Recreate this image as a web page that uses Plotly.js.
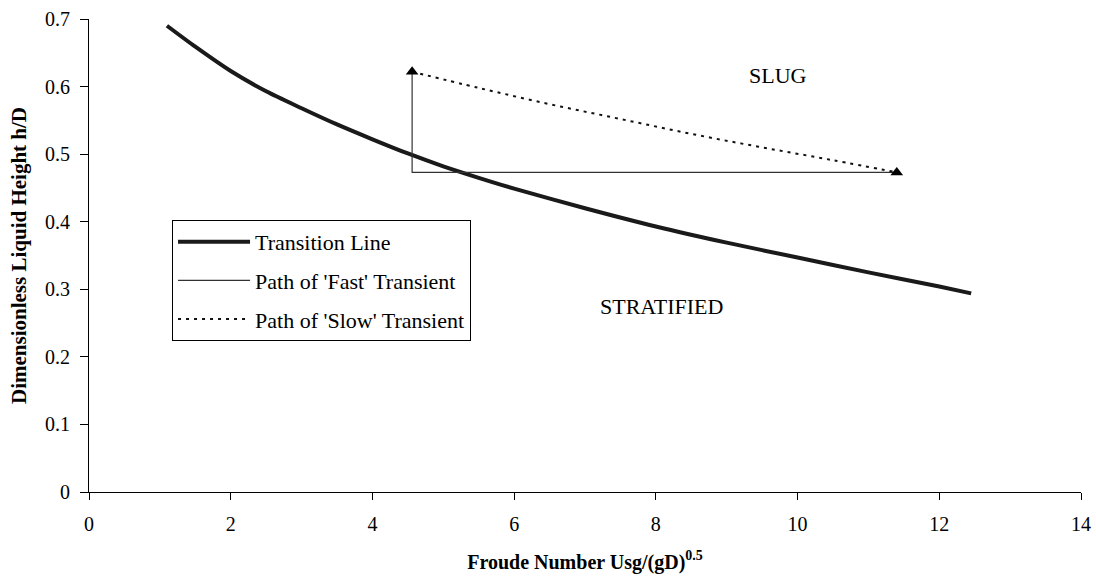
<!DOCTYPE html>
<html>
<head>
<meta charset="utf-8">
<script src="https://cdn.plot.ly/plotly-3.0.1.min.js"></script>
<style>html,body{margin:0;padding:0;background:#fff;}#chart{width:1096px;height:579px;}</style>
</head>
<body>
<div id="chart"></div>
<script>
// Transition line
const transX = [1.1, 1.5, 2, 2.5, 3, 3.5, 4, 4.5, 5, 5.5, 6, 7, 8, 9, 10, 11, 12, 12.45];
const transY = [0.690, 0.659, 0.623, 0.593, 0.568, 0.544, 0.522, 0.501, 0.482, 0.465, 0.449, 0.420, 0.393, 0.369, 0.347, 0.325, 0.304, 0.294];
// Path of 'Fast' transient
const fastX = [11.4, 4.56, 4.56];
const fastY = [0.473, 0.473, 0.622];
// Path of 'Slow' transient
const slowX = [4.56, 5.5, 6.5, 7.5, 8.5, 9.5, 10.5, 11.4];
const slowY = [0.622, 0.598, 0.574, 0.552, 0.530, 0.510, 0.491, 0.473];
// Region labels
const regionLabels = ['SLUG', 'STRATIFIED'];
const regionX = [9.72, 8.08];
const regionY = [0.616, 0.274];
const legendNames = ['Transition Line', "Path of 'Fast' Transient", "Path of 'Slow' Transient"];

const serif = 'Liberation Serif, Times New Roman, serif';

const traces = [
  {x: transX, y: transY, mode: 'lines', name: legendNames[0],
   line: {color: '#1a1a1a', width: 4, shape: 'spline', smoothing: 0.8}, legendgroup: 'a'},
  {x: fastX, y: fastY, mode: 'lines', name: legendNames[1],
   line: {color: '#333', width: 1.2}, legendgroup: 'b'},
  {x: slowX, y: slowY, mode: 'lines', name: legendNames[2],
   line: {color: '#111', width: 2, dash: '3px,5px', shape: 'spline'}, legendgroup: 'c'},
  {x: [slowX[0], slowX[slowX.length - 1]], y: [slowY[0], slowY[slowY.length - 1]],
   mode: 'markers', showlegend: false, hoverinfo: 'skip',
   marker: {symbol: 'triangle-up', size: 11, color: '#000'}}
];

const layout = {
  width: 1096, height: 579,
  margin: {l: 89, r: 15, t: 19, b: 87},
  paper_bgcolor: '#fff', plot_bgcolor: '#fff',
  font: {family: serif, size: 20, color: '#000'},
  showlegend: true,
  legend: {
    x: 0.0837, y: 0.575, xanchor: 'left', yanchor: 'top',
    bordercolor: '#000', borderwidth: 1, bgcolor: '#fff',
    font: {family: serif, size: 22, color: '#000'},
    traceorder: 'grouped', tracegroupgap: 7, itemwidth: 72
  },
  xaxis: {
    range: [0, 14], dtick: 2, tick0: 0,
    showgrid: false, zeroline: false,
    showline: true, linecolor: '#000', linewidth: 1,
    ticks: 'outside', ticklen: 7, tickcolor: '#000',
    ticklabelstandoff: 7,
    tickfont: {family: serif, size: 20},
    title: {text: 'Froude Number Usg/(gD)<sup>0.5</sup>', standoff: 20,
            font: {family: serif, size: 20, weight: 'bold'}}
  },
  yaxis: {
    range: [0, 0.7], dtick: 0.1, tick0: 0,
    showgrid: false, zeroline: false,
    showline: true, linecolor: '#000', linewidth: 1,
    ticks: 'outside', ticklen: 8, tickcolor: '#000',
    ticklabelstandoff: 6,
    tickfont: {family: serif, size: 20},
    title: {text: 'Dimensionless Liquid Height h/D', standoff: 12,
            font: {family: serif, size: 21, weight: 'bold'}}
  },
  annotations: regionLabels.map((t, i) => ({
    x: regionX[i], y: regionY[i], xref: 'x', yref: 'y', text: t,
    showarrow: false, font: {family: serif, size: 22, color: '#000'}
  }))
};

Plotly.newPlot('chart', traces, layout, {displayModeBar: false, staticPlot: true});
</script>
</body>
</html>
